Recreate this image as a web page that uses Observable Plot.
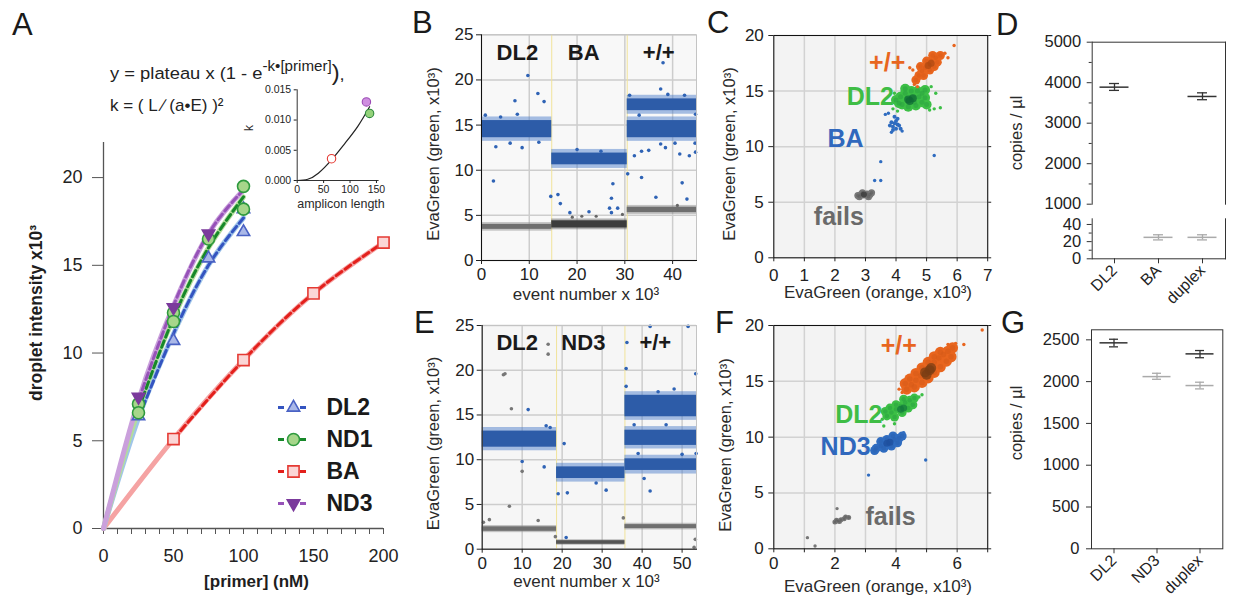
<!DOCTYPE html>
<html><head><meta charset="utf-8">
<script src="https://cdn.jsdelivr.net/npm/d3@7"></script>
<script src="https://cdn.jsdelivr.net/npm/@observablehq/plot@0.6"></script>
<style>
body{margin:0;background:#fff;}
#fig{position:relative;width:1233px;height:600px;overflow:hidden;background:#fff;}
</style></head><body><div id="fig"></div>
<script>
const FONT = '"Liberation Sans", Arial, Helvetica, sans-serif';

// ================= DATA =================
// Panel A: droplet intensity vs primer concentration
const primerDL2 = [25, 50, 75, 100, 100];
const intensityDL2 = [6.4, 10.7, 15.4, 16.9, 18.2];
const primerND1 = [25, 25, 50, 50, 75, 100, 100];
const intensityND1 = [7.1, 6.6, 12.3, 11.8, 16.5, 19.5, 18.2];
const primerBA = [50, 100, 150, 200];
const intensityBA = [5.1, 9.6, 13.4, 16.3];
const primerND3 = [25, 50, 75];
const intensityND3 = [7.5, 12.6, 16.8];
const fitPrimer = [0, 25, 50, 75, 100];
const fitDL2 = [0, 6.3, 11.1, 15.0, 17.7];
const fitND1 = [0, 6.8, 12.0, 16.0, 18.9];
const fitND3 = [0, 7.3, 12.7, 16.8, 19.3];
const fitPrimerBA = [0, 50, 100, 150, 200];
const fitBA = [0, 5.1, 9.6, 13.4, 16.3];
const legendNames = ["DL2", "ND1", "BA", "ND3"];
const aTicksX = [0,10,20,30,40,50,60,70,80,90,100,110,120,130,140,150,160,170,180,190,200];
const aLabelsX = [0, 50, 100, 150, 200];
const aTicksY = [0, 5, 10, 15, 20];
// Panel A inset: k vs amplicon length
const insetNames = ["BA", "ND3", "ND1"];
const insetLength = [65, 131, 137];
const insetK = [0.0036, 0.0130, 0.0111];
const kFitLength = [0, 20, 40, 65, 90, 115, 137];
const kFitK = [0, 0.0002, 0.0012, 0.0034, 0.0061, 0.0090, 0.0122];
const insetTicksX = [0, 50, 100, 150];
const insetTicksY = [0, 0.005, 0.010, 0.015];

// Panel B: event traces
const bTicksX = [0, 10, 20, 30, 40];
const bTicksY = [0, 5, 10, 15, 20, 25];
const bSeparators = [14.7, 30.5];
const bBlueBands = [
  {x1: 0, x2: 14.7, lo: 13.6, hi: 15.5},
  {x1: 14.7, x2: 30.5, lo: 10.6, hi: 11.9},
  {x1: 30.5, x2: 45, lo: 13.6, hi: 15.5},
  {x1: 30.5, x2: 45, lo: 16.6, hi: 17.9}
];
const bGrayBands = [
  {x1: 0, x2: 14.7, lo: 3.45, hi: 4.0},
  {x1: 30.5, x2: 45, lo: 5.3, hi: 5.9}
];
const bDarkBands = [{x1: 14.7, x2: 30.5, lo: 3.6, hi: 4.4}];
const bBlueOutliers = [[2.5,8.8],[7,17.7],[9.7,20.5],[11.8,18.5],[13.1,17.6],[7.5,16.2],[3,12.6],[6,13],[8.5,12.5],[12,13.1],[4,15.9],[0.8,16.1],[14.5,7.1],[16,7.3],[16.5,6.3],[18.5,5.3],[22.5,5.4],[27.5,8.5],[27.2,6.9],[26.8,5.8],[27.2,5.3],[28.5,5.8],[30.6,9.6],[20,12.3],[25,12.1],[33.5,9.2],[36.5,7],[38,21.9],[37.5,19],[42,8.6],[43,6.8],[41.5,11.8],[43.5,11.6],[44.8,12.0],[33.5,12.1],[32,11.6],[35,12.2],[38.5,12.5],[40.5,13],[37.5,12.9],[31,18.3],[44.8,16.2],[44.7,13.0],[33,16.1],[39,18.4],[42.5,18.3]];
const bGrayOutliers = [[19,4.8],[21,4.9],[24,4.9],[29.5,5.1],[41,6.1]];
const bLabelText = ["DL2", "BA", "+/+"];
const bLabelX = [7.5, 21.4, 37.1];
const bLabelY = [23, 23, 23];

// Panel C: 2D scatter (orange vs green)
const cTicksX = [0, 1, 2, 3, 4, 5, 6, 7];
const cTicksY = [0, 5, 10, 15, 20];
const cPlusBody = [[4.65,16.0],[4.75,16.4],[4.85,16.8],[4.95,17.1],[5.05,17.4],[5.15,17.7],[5.3,18.0],[5.45,18.2],[4.8,17.2],[5.0,17.7],[5.25,17.2],[5.1,16.9],[4.9,16.4],[5.35,17.6],[5.2,18.2]];
const cPlusCore = [[5.05,17.3],[5.15,17.5]];
const cPlusOut = [[5.9,19.1],[5.6,18.4],[5.7,18.0],[4.55,16.9],[4.45,17.1],[4.6,15.6],[4.7,15.4]];
const cDL2Body = [[4.0,14.2],[4.15,14.5],[4.3,14.8],[4.5,15.0],[4.7,15.0],[4.85,14.8],[4.95,14.4],[4.85,14.0],[4.65,13.7],[4.4,13.6],[4.2,13.8],[4.35,14.3],[4.55,14.4],[4.75,14.5],[4.6,14.0],[4.1,13.9],[4.95,15.1],[4.3,15.2],[5.0,13.8]];
const cDL2Core = [[4.4,14.25],[4.55,14.35],[4.45,14.1]];
const cDL2Out = [[5.3,14.8],[5.45,13.5],[5.25,13.4],[3.9,13.4],[5.1,13.3],[5.15,15.4],[3.95,14.8],[4.05,13.2]];
const cBABody = [[3.9,11.8],[3.95,12.1],[4.0,11.6],[4.05,12.0],[4.1,11.9],[3.85,12.2],[4.0,12.3],[3.9,11.5],[4.15,11.6],[3.8,11.9],[4.05,12.5],[3.95,12.7]];
const cBAOut = [[3.75,13.0],[3.65,12.9],[4.2,11.4],[3.85,11.3],[3.5,8.65],[3.3,6.95],[3.5,6.95],[5.25,9.2]];
const cFailBody = [[2.75,5.6],[2.85,5.7],[2.95,5.65],[3.05,5.75],[3.15,5.7],[2.9,5.85],[3.1,5.5],[2.8,5.5],[3.2,5.85]];
const cFailCore = [[2.95,5.7]];
const cLabelText = ["+/+", "DL2", "BA", "fails"];
const cLabelX = [3.71, 3.16, 2.35, 2.13];
const cLabelY = [17.55, 14.5, 10.7, 3.7];

// Panel D: copies / µl (broken axis)
const dCats = ["DL2", "BA", "duplex"];
const dDarkCat = ["DL2", "duplex"];
const dDarkMean = [3890, 3660];
const dDarkLo = [3810, 3580];
const dDarkHi = [3980, 3750];
const dLightCat = ["BA", "duplex"];
const dLightMean = [25, 25];
const dLightLo = [22, 22];
const dLightHi = [28, 28];
const dUpperTicks = [1000, 2000, 3000, 4000, 5000];
const dUpperMinor = [1500, 2500, 3500, 4500];
const dLowerTicks = [0, 20, 40];
const dLowerMinor = [10, 30];

// Panel E: event traces
const eTicksX = [0, 10, 20, 30, 40, 50];
const eTicksY = [0, 5, 10, 15, 20, 25];
const eSeparators = [18.6, 35.7];
const eBlueBands = [
  {x1: 0, x2: 18.6, lo: 11.4, hi: 13.2},
  {x1: 18.6, x2: 35.7, lo: 7.9, hi: 9.2},
  {x1: 35.7, x2: 53.6, lo: 14.8, hi: 17.2},
  {x1: 35.7, x2: 53.6, lo: 11.6, hi: 13.3},
  {x1: 35.7, x2: 53.6, lo: 8.8, hi: 10.1}
];
const eGrayBands = [
  {x1: 0, x2: 18.6, lo: 2.0, hi: 2.5},
  {x1: 35.7, x2: 53.6, lo: 2.3, hi: 2.75}
];
const eDarkBands = [{x1: 18.6, x2: 35.7, lo: 0.55, hi: 0.95}];
const eBlueOutliers = [[11.5,15.6],[10,9.8],[15.5,9.2],[16,13.8],[17,13.6],[20.5,11.8],[19,6.2],[21.3,6.3],[21,1.3],[28.5,7.4],[31,6.6],[36.2,23.1],[36,20.2],[36,18.2],[42,6.5],[40.5,7.9],[42,24.9],[51.5,24.9],[53.4,19.6],[53.5,10.7],[38,13.9],[44,17.6],[48,17.9],[46,13.9],[50,10.6],[39,10.7]];
const eGrayOutliers = [[5.3,19.5],[5.7,19.6],[7.3,15.7],[10,8.7],[6.8,4.8],[0.3,3.0],[1.8,3.3],[14,3.2],[16.5,22.9],[16.5,21.8],[18.3,1.4],[35.3,3.5],[53.3,1.1],[53,0.2]];
const eLabelText = ["DL2", "ND3", "+/+"];
const eLabelX = [8.75, 25.3, 43.3];
const eLabelY = [23.1, 23.1, 23.1];

// Panel F: 2D scatter
const fTicksX = [0, 1, 2, 3, 4, 5, 6, 7];
const fLabelsX = [0, 2, 4, 6];
const fTicksY = [0, 5, 10, 15, 20];
const fPlusBody = [[4.35,14.3],[4.5,14.7],[4.65,15.1],[4.8,15.5],[4.95,15.9],[5.1,16.3],[5.25,16.7],[5.4,17.1],[5.55,17.4],[5.7,17.7],[5.85,18.0],[4.45,15.2],[4.65,15.7],[4.85,16.2],[5.05,16.7],[5.25,17.2],[5.45,17.6],[4.6,14.5],[4.85,14.9],[5.05,15.3],[5.25,15.8],[5.45,16.3],[5.65,16.8],[4.3,14.8],[5.8,17.2],[5.0,15.9],[5.2,16.1]];
const fPlusCore = [[4.95,15.8],[5.1,16.0],[5.0,15.6],[5.15,16.2]];
const fPlusOut = [[6.82,19.6],[6.22,18.3],[5.95,18.4],[4.2,14.0],[4.1,14.3],[5.7,18.3]];
const fDL2Body = [[3.7,11.9],[3.85,12.2],[4.0,12.5],[4.15,12.8],[4.3,13.1],[4.45,13.3],[3.8,12.6],[4.0,12.9],[4.2,12.2],[4.4,12.6],[4.55,12.9],[3.95,11.8],[4.25,13.4],[4.6,13.5],[3.65,12.3]];
const fDL2Core = [[4.15,12.5],[4.25,12.6]];
const fDL2Out = [[3.6,11.0],[3.95,11.2],[4.75,13.6],[4.85,13.8],[3.55,11.6]];
const fND3Body = [[3.35,9.0],[3.5,9.2],[3.65,9.4],[3.8,9.6],[3.95,9.8],[4.1,9.9],[4.2,10.1],[3.5,9.6],[3.7,9.8],[3.9,10.1],[3.6,9.0],[3.85,9.2],[4.05,9.5],[3.3,8.8]];
const fND3Core = [[3.7,9.45],[3.8,9.55]];
const fND3Out = [[3.1,6.6],[4.97,7.95],[3.25,8.6],[4.25,10.4]];
const fFailBody = [[2.0,2.4],[2.1,2.5],[2.2,2.6],[2.3,2.7],[2.45,2.8],[2.15,2.45],[2.35,2.85],[2.05,2.55]];
const fFailOut = [[2.07,3.6],[1.1,1.0],[1.35,0.25]];
const fLabelText = ["+/+", "DL2", "ND3", "fails"];
const fLabelX = [4.09, 2.78, 2.35, 3.82];
const fLabelY = [18.2, 12.0, 9.08, 2.86];

// Panel G: copies / µl
const gCats = ["DL2", "ND3", "duplex"];
const gDarkCat = ["DL2", "duplex"];
const gDarkMean = [2464, 2332];
const gDarkLo = [2416, 2286];
const gDarkHi = [2507, 2372];
const gLightCat = ["ND3", "duplex"];
const gLightMean = [2060, 1953];
const gLightLo = [2028, 1913];
const gLightHi = [2100, 1993];
const gTicksY = [0, 500, 1000, 1500, 2000, 2500];

// ================= STYLES / HELPERS =================
const aStyle = {
  DL2: {line: "#3454c0", light: "#9fc5ea", stroke: "#4a62c4", fill: "#aab8e8", symbol: "triangle", rotate: 0, r: 4.6},
  ND1: {line: "#17882a", light: "#b4dc9c", stroke: "#2e9a3e", fill: "#a6d68a", symbol: "circle", rotate: 0, r: 6},
  BA:  {line: "#e3201c", light: "#f5a3a3", stroke: "#e53a33", fill: "#fbd6d6", symbol: "square", rotate: 0, r: 6.3},
  ND3: {line: "#9652b8", light: "#caa0dc", stroke: "#7b3a9c", fill: "#7b3a9c", symbol: "triangle", rotate: 180, r: 4.6}
};
const insetStyle = {
  BA: {fill: "#ffffff", stroke: "#e53a33"},
  ND3: {fill: "#cf8fe0", stroke: "#9a4ab5"},
  ND1: {fill: "#94d27a", stroke: "#2e8a3e"}
};
const labelColor = {"+/+": "#e8661f", "DL2": "#3fbd45", "BA": "#3068bd", "ND3": "#3068bd", "fails": "#6a6a6a"};
const plain = d => String(d);

const pts = (xs, ys) => xs.map((x, i) => ({x, y: ys[i]}));
const xy = arr => arr.map(([x, y]) => ({x, y}));
const labs = (t, xs, ys) => t.map((s, i) => ({t: s, x: xs[i], y: ys[i]}));
const errRows = (c, m, lo, hi) => c.map((k, i) => ({c: k, m: m[i], lo: lo[i], hi: hi[i]}));

const fig = document.getElementById("fig");
function place(svg, left, top) {
  svg.style.position = "absolute";
  svg.style.left = left + "px";
  svg.style.top = top + "px";
  svg.style.maxWidth = "none";
  fig.appendChild(svg);
}
const baseStyle = {fontFamily: FONT, fontSize: "17px", color: "#222", background: "transparent", overflow: "visible"};

function bandMarks(bands, fill, edge, fuzz) {
  return [
    Plot.rect(bands, {x1: "x1", x2: "x2", y1: d => d.lo - fuzz, y2: d => d.hi + fuzz, fill: edge, fillOpacity: 0.5}),
    Plot.rect(bands, {x1: "x1", x2: "x2", y1: "lo", y2: "hi", fill})
  ];
}
function cluster(body, core, out, color, mid, dark, rBody, rCore) {
  return [
    Plot.dot(xy(out), {x: "x", y: "y", r: 1.7, fill: color}),
    Plot.dot(xy(body), {x: "x", y: "y", r: rBody, fill: color}),
    Plot.dot(xy(body), {x: "x", y: "y", r: rBody * 0.5, fill: mid, fillOpacity: 0.5}),
    Plot.dot(xy(core), {x: "x", y: "y", r: rCore, fill: dark, fillOpacity: 0.75})
  ];
}
function errMarks(rows, color) {
  return [
    Plot.ruleX(rows, {x: "c", y1: "lo", y2: "hi", stroke: color, strokeWidth: 1.3}),
    Plot.tickY(rows, {x: "c", y: "m", stroke: color, strokeWidth: 1.5, insetLeft: 7.5, insetRight: 7.5}),
    Plot.tickY(rows, {x: "c", y: "lo", stroke: color, strokeWidth: 1.3, insetLeft: 17, insetRight: 17}),
    Plot.tickY(rows, {x: "c", y: "hi", stroke: color, strokeWidth: 1.3, insetLeft: 17, insetRight: 17})
  ];
}

// ================= PANEL A =================
const aSeries = [
  {name: "BA", px: primerBA, py: intensityBA, fx: fitPrimerBA, fy: fitBA},
  {name: "DL2", px: primerDL2, py: intensityDL2, fx: fitPrimer, fy: fitDL2},
  {name: "ND1", px: primerND1, py: intensityND1, fx: fitPrimer, fy: fitND1},
  {name: "ND3", px: primerND3, py: intensityND3, fx: fitPrimer, fy: fitND3}
];
const aMarks = [
  Plot.ruleY([0], {stroke: "#555", strokeWidth: 1.3}),
  Plot.ruleX([0], {stroke: "#555", strokeWidth: 1.3}),
  Plot.axisX(aTicksX, {tickSize: 6, tickPadding: 15, fontSize: 18, stroke: "#555", label: null,
    tickFormat: d => aLabelsX.includes(d) ? String(d) : ""}),
  Plot.axisY(aTicksY, {tickSize: 11, tickPadding: 10, fontSize: 18, stroke: "#555", label: null})
];
for (const s of aSeries) aMarks.push(Plot.line(pts(s.fx, s.fy), {x: "x", y: "y", stroke: aStyle[s.name].light, strokeWidth: 5, curve: "natural"}));
for (const s of aSeries) {
  const first = d3.min(s.px);
  aMarks.push(Plot.line(pts(s.fx, s.fy).filter(d => d.x >= first), {x: "x", y: "y", stroke: aStyle[s.name].line, strokeWidth: 3, strokeDasharray: "7,4", curve: "natural"}));
}
for (const s of aSeries) {
  const st = aStyle[s.name];
  aMarks.push(Plot.dot(pts(s.px, s.py), {x: "x", y: "y", r: st.r, symbol: st.symbol, rotate: st.rotate, fill: st.fill, stroke: st.stroke, strokeWidth: 1.6}));
}
place(Plot.plot({
  width: 400, height: 470, marginLeft: 103, marginRight: 17, marginTop: 12, marginBottom: 72,
  x: {domain: [0, 200], axis: null, label: null}, y: {domain: [0, 22], axis: null, label: null},
  style: baseStyle, marks: aMarks
}), 0, 130);

// Inset
const insetMarks = [
  Plot.ruleY([0], {stroke: "#333"}),
  Plot.ruleX([0], {stroke: "#333"}),
  Plot.axisX(insetTicksX, {tickSize: 3, tickPadding: 2, fontSize: 10.5, label: null}),
  Plot.axisY(insetTicksY, {tickSize: 3, tickPadding: 3, fontSize: 10.5, tickFormat: d3.format(".3f"), label: null}),
  Plot.line(pts(kFitLength, kFitK), {x: "x", y: "y", stroke: "#222", strokeWidth: 1.2, curve: "natural"})
];
insetNames.forEach((n, i) => insetMarks.push(
  Plot.dot([{x: insetLength[i], y: insetK[i]}], {x: "x", y: "y", r: 4.2, fill: insetStyle[n].fill, stroke: insetStyle[n].stroke, strokeWidth: 1.1})
));
place(Plot.plot({
  width: 145, height: 140, marginLeft: 56.7, marginRight: 6.4, marginTop: 9.3, marginBottom: 40,
  x: {domain: [0, 155], axis: null, label: null}, y: {domain: [0, 0.015], axis: null, label: null},
  style: baseStyle, marks: insetMarks
}), 240, 80);

// Legend for A
const legendMarks = [];
for (const n of legendNames) {
  const st = aStyle[n];
  legendMarks.push(
    Plot.ruleY([n], {y: d => d, x1: 0, x2: 1, stroke: st.line, strokeWidth: 3, strokeDasharray: "6,5"}),
    Plot.dot([n], {y: d => d, x: 0.5, r: st.r, symbol: st.symbol, rotate: st.rotate, fill: st.fill, stroke: st.stroke, strokeWidth: 1.6}),
    Plot.text([n], {y: d => d, x: 1.6, text: d => d, textAnchor: "start", fontSize: 23, fontWeight: "bold", fill: "#1a1a1a"})
  );
}
place(Plot.plot({
  width: 140, height: 130, marginLeft: 10, marginRight: 10, marginTop: 0, marginBottom: 0,
  x: {domain: [0, 4], axis: null}, y: {type: "point", domain: legendNames, padding: 0.5, axis: null},
  style: baseStyle, marks: legendMarks
}), 268, 390);

// ================= PANEL B =================
place(Plot.plot({
  width: 285, height: 265, marginLeft: 61, marginRight: 9, marginTop: 14.3, marginBottom: 25,
  x: {domain: [0, 45], axis: null, label: null}, y: {domain: [0, 25], axis: null, label: null},
  style: baseStyle,
  marks: [
    Plot.frame({fill: "#f8f8f8", stroke: null}),
    Plot.gridX(bTicksX, {stroke: "#cdcdcd", strokeOpacity: 1, strokeWidth: 1.5}),
    Plot.gridY(bTicksY, {stroke: "#cdcdcd", strokeOpacity: 1, strokeWidth: 1.5}),
    Plot.ruleX(bSeparators, {stroke: "#f1e39a", strokeWidth: 1}),
    ...bandMarks(bBlueBands, "#2d5ca8", "#4f80cc", 0.4),
    ...bandMarks(bGrayBands, "#6f6f6f", "#909090", 0.2),
    ...bandMarks(bDarkBands, "#3c3c3c", "#6a6a6a", 0.2),
    Plot.dot(xy(bBlueOutliers), {x: "x", y: "y", r: 1.8, fill: "#2f63b5"}),
    Plot.dot(xy(bGrayOutliers), {x: "x", y: "y", r: 1.6, fill: "#666"}),
    Plot.frame({stroke: "#c4c4c4"}),
    Plot.frame({anchor: "left", stroke: "#111"}),
    Plot.frame({anchor: "bottom", stroke: "#111"}),
    Plot.axisX(bTicksX, {tickSize: 4, tickPadding: 3, fontSize: 17, label: null}),
    Plot.axisY(bTicksY, {tickSize: 5, tickPadding: 3, fontSize: 17, label: null}),
    Plot.text(labs(bLabelText, bLabelX, bLabelY), {x: "x", y: "y", text: "t", fontSize: 22, fontWeight: "bold", fill: "#1a1a1a"})
  ]
}), 420, 20);

// ================= PANEL C =================
place(Plot.plot({
  width: 295, height: 280, marginLeft: 73.3, marginRight: 7.8, marginTop: 15, marginBottom: 42.7,
  x: {domain: [0, 7], axis: null, label: null}, y: {domain: [0, 20], axis: null, label: null},
  style: baseStyle,
  marks: [
    Plot.frame({fill: "#f3f3f3", stroke: null}),
    Plot.gridX(cTicksX, {stroke: "#d2d2d2", strokeOpacity: 1, strokeWidth: 1.5}),
    Plot.gridY(cTicksY, {stroke: "#d2d2d2", strokeOpacity: 1, strokeWidth: 1.5}),
    ...cluster(cFailBody, cFailCore, [], "#777", "#5a5a5a", "#3a3a3a", 3.5, 3),
    ...cluster(cBABody, [], cBAOut, "#2f6cc0", "#2f6cc0", "#1d4f9e", 2, 2),
    ...cluster(cDL2Body, cDL2Core, cDL2Out, "#3cbf46", "#27a040", "#0f6a35", 5, 4),
    ...cluster(cPlusBody, cPlusCore, cPlusOut, "#e8651e", "#d75a18", "#b04a12", 4.5, 3.5),
    Plot.text(labs(cLabelText, cLabelX, cLabelY), {x: "x", y: "y", text: "t", fontSize: 25, fontWeight: "bold", fill: d => labelColor[d.t]}),
    Plot.frame({stroke: "#111"}),
    Plot.axisX(cTicksX, {tickSize: 4, tickPadding: 7, fontSize: 17, label: null}),
    Plot.axisY(cTicksY, {tickSize: 5, tickPadding: 5, fontSize: 17, label: null}),
    Plot.axisY(cTicksY, {anchor: "right", tickSize: 3, tickFormat: () => "", label: null})
  ]
}), 700, 20);

// ================= PANEL D =================
place(Plot.plot({
  width: 213, height: 181, marginLeft: 71.7, marginRight: 8, marginTop: 11.7, marginBottom: 7.3,
  x: {type: "band", domain: dCats, padding: 0, axis: null, label: null},
  y: {domain: [1000, 5000], axis: null, label: null},
  style: baseStyle,
  marks: [
    Plot.frame({anchor: "top", stroke: "#333"}),
    Plot.frame({anchor: "left", stroke: "#333"}),
    Plot.frame({anchor: "right", stroke: "#333"}),
    Plot.axisY(dUpperTicks, {tickSize: 5, tickPadding: 6, fontSize: 16.5, stroke: "#333", label: null, tickFormat: plain}),
    Plot.axisY(dUpperMinor, {tickSize: 3, tickFormat: () => "", stroke: "#333", label: null}),
    ...errMarks(errRows(dDarkCat, dDarkMean, dDarkLo, dDarkHi), "#333")
  ]
}), 1020, 30);
place(Plot.plot({
  width: 213, height: 90, marginLeft: 71.7, marginRight: 8, marginTop: 8.3, marginBottom: 41.7,
  x: {type: "band", domain: dCats, padding: 0, axis: null, label: null},
  y: {domain: [0, 46.6], axis: null, label: null},
  style: baseStyle,
  marks: [
    Plot.frame({anchor: "bottom", stroke: "#333"}),
    Plot.frame({anchor: "left", stroke: "#333"}),
    Plot.frame({anchor: "right", stroke: "#333"}),
    Plot.axisY(dLowerTicks, {tickSize: 5, tickPadding: 6, fontSize: 16.5, stroke: "#333", label: null, tickFormat: plain}),
    Plot.axisY(dLowerMinor, {tickSize: 3, tickFormat: () => "", stroke: "#333", label: null}),
    Plot.axisX(dCats, {tickSize: 5, tickPadding: 4, tickRotate: -45, fontSize: 16, stroke: "#333", label: null}),
    ...errMarks(errRows(dLightCat, dLightMean, dLightLo, dLightHi), "#aaa")
  ]
}), 1020, 210);

// ================= PANEL E =================
place(Plot.plot({
  width: 285, height: 265, marginLeft: 61.7, marginRight: 9, marginTop: 15, marginBottom: 26.3,
  x: {domain: [0, 53.6], axis: null, label: null}, y: {domain: [0, 25], axis: null, label: null},
  style: baseStyle,
  marks: [
    Plot.frame({fill: "#f6f6f6", stroke: null}),
    Plot.gridX(eTicksX, {stroke: "#cdcdcd", strokeOpacity: 1, strokeWidth: 1.5}),
    Plot.gridY(eTicksY, {stroke: "#cdcdcd", strokeOpacity: 1, strokeWidth: 1.5}),
    Plot.ruleX(eSeparators, {stroke: "#f1e39a", strokeWidth: 1}),
    ...bandMarks(eBlueBands, "#2d5ca8", "#4f80cc", 0.4),
    ...bandMarks(eGrayBands, "#6f6f6f", "#909090", 0.15),
    ...bandMarks(eDarkBands, "#555", "#777", 0.1),
    Plot.dot(xy(eBlueOutliers), {x: "x", y: "y", r: 1.8, fill: "#2f63b5"}),
    Plot.dot(xy(eGrayOutliers), {x: "x", y: "y", r: 1.8, fill: "#777"}),
    Plot.frame({stroke: "#c4c4c4"}),
    Plot.frame({anchor: "left", stroke: "#111"}),
    Plot.frame({anchor: "bottom", stroke: "#111"}),
    Plot.axisX(eTicksX, {tickSize: 4, tickPadding: 4, fontSize: 17, label: null}),
    Plot.axisY(eTicksY, {tickSize: 5, tickPadding: 3, fontSize: 17, label: null}),
    Plot.text(labs(eLabelText, eLabelX, eLabelY), {x: "x", y: "y", text: "t", fontSize: 22, fontWeight: "bold", fill: "#1a1a1a"})
  ]
}), 420, 310);

// ================= PANEL F =================
place(Plot.plot({
  width: 295, height: 282, marginLeft: 73.3, marginRight: 7.8, marginTop: 15, marginBottom: 43.7,
  x: {domain: [0, 7], axis: null, label: null}, y: {domain: [0, 20], axis: null, label: null},
  style: baseStyle,
  marks: [
    Plot.frame({fill: "#f3f3f3", stroke: null}),
    Plot.gridX(fTicksX, {stroke: "#d2d2d2", strokeOpacity: 1, strokeWidth: 1.5}),
    Plot.gridY(fTicksY, {stroke: "#d2d2d2", strokeOpacity: 1, strokeWidth: 1.5}),
    ...cluster(fFailBody, [], fFailOut, "#777", "#5a5a5a", "#3a3a3a", 2.5, 2),
    ...cluster(fND3Body, fND3Core, fND3Out, "#2f6cc0", "#2a60b0", "#1d4f9e", 4.5, 3.5),
    ...cluster(fDL2Body, fDL2Core, fDL2Out, "#3cbf46", "#27a040", "#137a3c", 4.5, 3.5),
    ...cluster(fPlusBody, fPlusCore, fPlusOut, "#e8651e", "#d35a18", "#7a3d14", 5.5, 5),
    Plot.text(labs(fLabelText, fLabelX, fLabelY), {x: "x", y: "y", text: "t", fontSize: 25, fontWeight: "bold", fill: d => labelColor[d.t]}),
    Plot.frame({stroke: "#111"}),
    Plot.axisX(fTicksX, {tickSize: 4, tickPadding: 4, fontSize: 17, label: null, tickFormat: d => fLabelsX.includes(d) ? String(d) : ""}),
    Plot.axisY(fTicksY, {tickSize: 5, tickPadding: 5, fontSize: 17, label: null}),
    Plot.axisY(fTicksY, {anchor: "right", tickSize: 3, tickFormat: () => "", label: null})
  ]
}), 700, 310);

// ================= PANEL G =================
place(Plot.plot({
  width: 213, height: 280, marginLeft: 71, marginRight: 10.7, marginTop: 9.3, marginBottom: 51.7,
  x: {type: "band", domain: gCats, padding: 0, axis: null, label: null},
  y: {domain: [0, 2620], axis: null, label: null},
  style: baseStyle,
  marks: [
    Plot.frame({stroke: "#333"}),
    Plot.axisY(gTicksY, {tickSize: 5, tickPadding: 7, fontSize: 16.5, stroke: "#333", label: null, tickFormat: plain}),
    Plot.axisX(gCats, {tickSize: 5, tickPadding: 4, tickRotate: -45, fontSize: 16, stroke: "#333", label: null}),
    ...errMarks(errRows(gLightCat, gLightMean, gLightLo, gLightHi), "#aaa"),
    ...errMarks(errRows(gDarkCat, gDarkMean, gDarkLo, gDarkHi), "#333")
  ]
}), 1020, 320);

// ================= TEXT OVERLAY =================
const ov = d3.select(fig).append("svg")
  .attr("width", 1233).attr("height", 600)
  .style("position", "absolute").style("left", "0px").style("top", "0px")
  .style("pointer-events", "none").style("font-family", FONT);
function label(x, y, s, {size = 17, weight = "normal", anchor = "middle", rotate = 0, fill = "#2a2a2a"} = {}) {
  return ov.append("text")
    .attr("transform", `translate(${x},${y})` + (rotate ? ` rotate(${rotate})` : ""))
    .attr("text-anchor", anchor).attr("font-size", size).attr("font-weight", weight)
    .attr("fill", fill).text(s);
}
// panel letters
[["A", 12, 35], ["B", 412, 33], ["C", 707, 33], ["D", 996, 35], ["E", 414, 333], ["F", 715, 333], ["G", 1001, 333]]
  .forEach(([s, x, y]) => label(x, y, s, {size: 31, anchor: "start", fill: "#1a1a1a"}));
// equations
const eq1 = ov.append("text").attr("transform", "translate(110,79) scale(1.08,1)").attr("font-size", 17).attr("fill", "#222");
eq1.append("tspan").text("y = plateau x (1 - e");
eq1.append("tspan").attr("dy", -8).attr("font-size", 14).text("-k•[primer]");
eq1.append("tspan").attr("dy", 9).attr("font-size", 22).text(")");
eq1.append("tspan").attr("font-size", 17).text(",");
label(110, 111, "k = ( L ∕ (a•E) )²", {size: 17, anchor: "start", fill: "#222"});
// axis labels
label(41.5, 313, "droplet intensity x10³", {size: 17.5, weight: "bold", rotate: -90, fill: "#1e1e1e"});
label(256.5, 587, "[primer] (nM)", {size: 17, weight: "bold", fill: "#1e1e1e"});
label(253, 128, "k", {size: 12, rotate: -90});
label(341, 208, "amplicon length", {size: 12.5});
label(439, 154, "EvaGreen (green, x10³)", {size: 16.5, rotate: -90});
label(586, 300, "event number x 10³", {size: 17});
label(735, 154, "EvaGreen (green, x10³)", {size: 16.5, rotate: -90});
label(878, 298, "EvaGreen (orange, x10³)", {size: 17});
label(1022, 133, "copies / µl", {size: 16.5, rotate: -90});
label(439, 443.5, "EvaGreen (green, x10³)", {size: 16.5, rotate: -90});
label(586.5, 587, "event number x 10³", {size: 17});
label(731, 445, "EvaGreen (green, x10³)", {size: 16.5, rotate: -90});
label(878, 592, "EvaGreen (orange, x10³)", {size: 17});
label(1022, 423, "copies / µl", {size: 16.5, rotate: -90});
</script></body></html>
